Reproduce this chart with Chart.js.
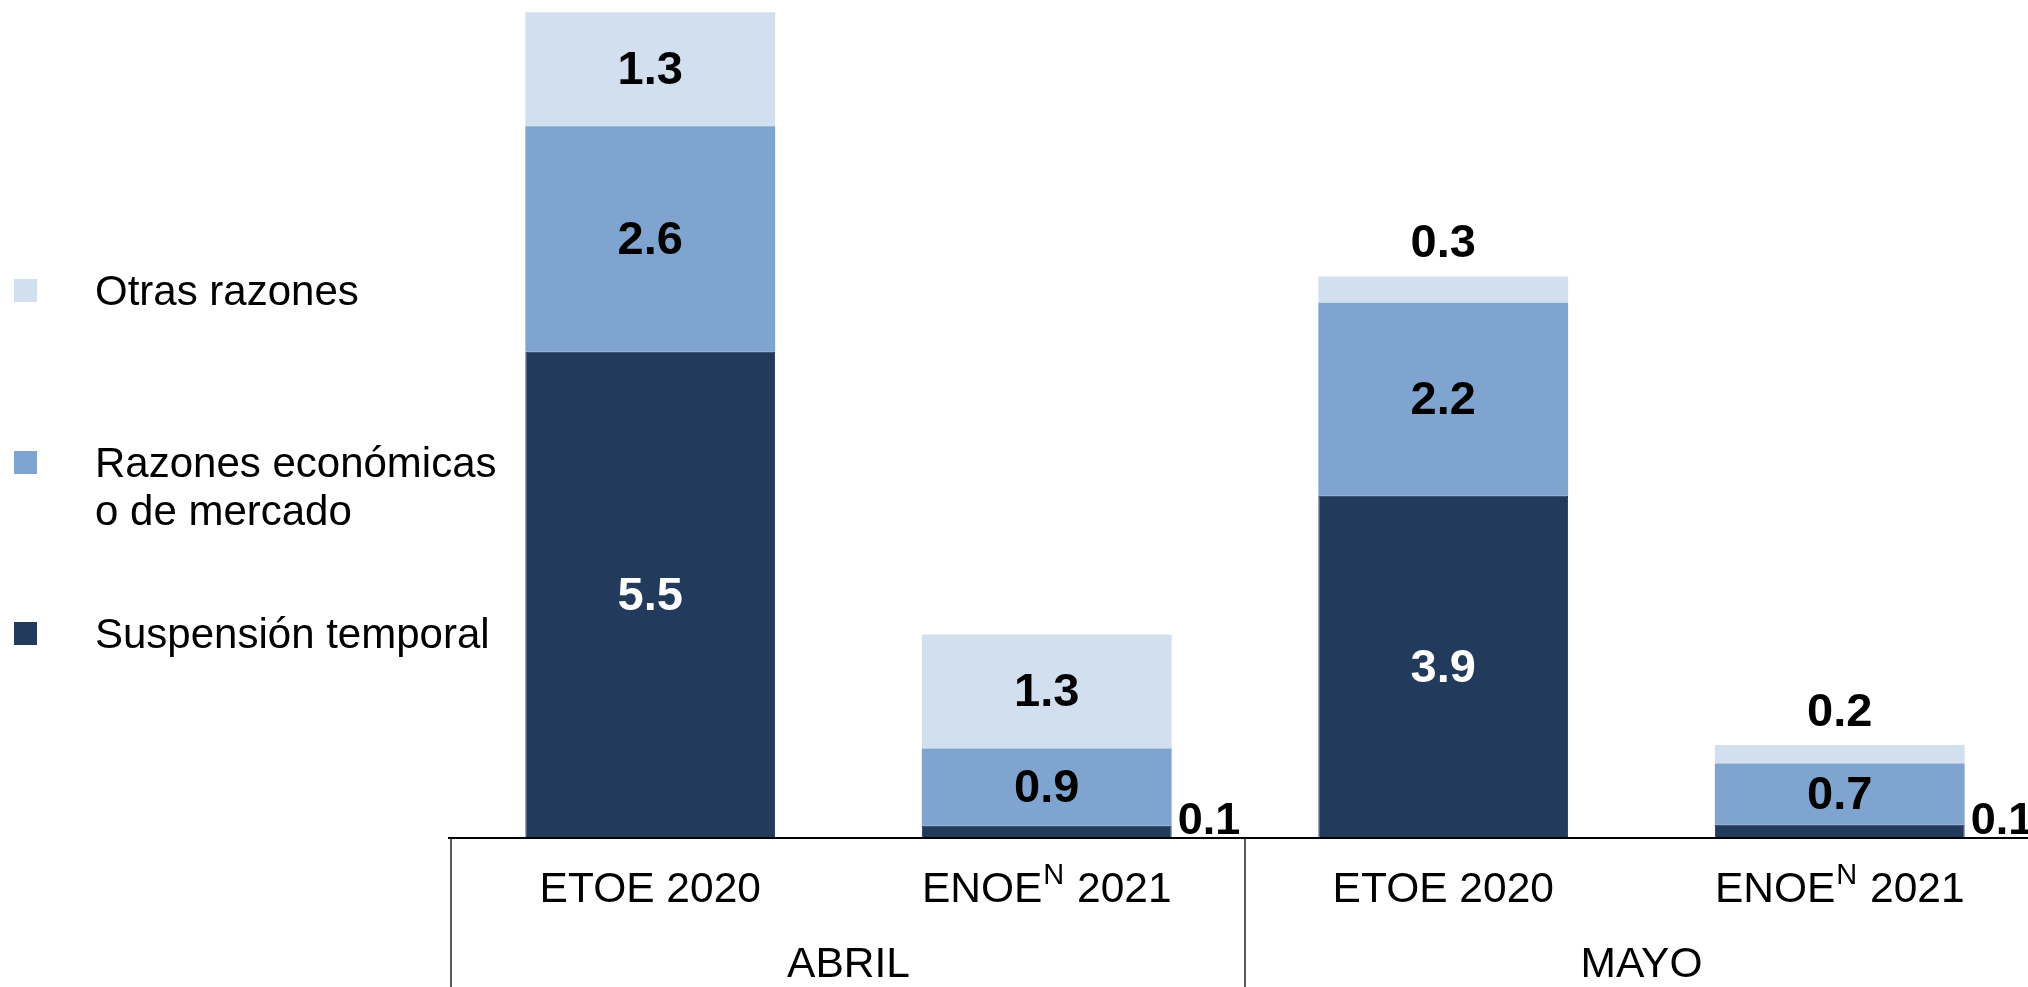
<!DOCTYPE html>
<html>
<head>
<meta charset="utf-8">
<script src="https://cdn.jsdelivr.net/npm/chart.js@4/dist/chart.umd.min.js"></script>
<style>
  html, body { margin: 0; padding: 0; background: #fff; overflow: hidden; }
  #wrap { width: 2038px; height: 987px; position: relative; }
</style>
</head>
<body>
<div id="wrap"><canvas id="chart"></canvas></div>
<script>
// categories and groups
var categories = ['ETOE 2020', 'ENOE 2021', 'ETOE 2020', 'ENOE 2021'];
var superscripts = ['', 'N', '', 'N'];
var groups = ['ABRIL', 'MAYO'];

// series (millions), bottom to top
var seriesNames = ['Suspensión temporal', 'Razones económicas\no de mercado', 'Otras razones'];
var suspension = [5.54, 0.14, 3.9, 0.15];
var economicas = [2.57, 0.88, 2.2, 0.7];
var otras = [1.3, 1.3, 0.3, 0.21];

var colors = ['#223A5C', '#7EA4CF', '#D2DFEE'];

var FONT = '"Liberation Sans", Arial, sans-serif';

var labelsPlugin = {
  id: 'labelsPlugin',
  afterDatasetsDraw: function(chart) {
    var ctx = chart.ctx;
    ctx.save();
    ctx.font = 'bold 47px ' + FONT;
    var n = chart.data.datasets.length;
    chart.data.datasets.forEach(function(ds, i) {
      var meta = chart.getDatasetMeta(i);
      meta.data.forEach(function(bar, j) {
        var txt = ds.data[j].toFixed(1);
        var h = bar.base - bar.y;
        if (h > 45) {
          ctx.fillStyle = i === 0 ? '#ffffff' : '#000000';
          ctx.textAlign = 'center';
          ctx.textBaseline = 'middle';
          ctx.fillText(txt, bar.x, (bar.y + bar.base) / 2 + 2);
        } else if (i === n - 1) {
          ctx.fillStyle = '#000';
          ctx.textAlign = 'center';
          ctx.textBaseline = 'alphabetic';
          ctx.fillText(txt, bar.x, bar.y - 19);
        } else {
          ctx.font = 'bold 45px ' + FONT;
          ctx.fillStyle = '#000';
          ctx.textAlign = 'left';
          ctx.textBaseline = 'alphabetic';
          ctx.fillText(txt, bar.x + bar.width / 2 + 6, bar.base - 4);
          ctx.font = 'bold 47px ' + FONT;
        }
      });
    });
    ctx.restore();
  },
  afterDraw: function(chart) {
    var ctx = chart.ctx;
    var area = chart.chartArea;
    var xs = chart.scales.x;
    ctx.save();

    // axis line
    ctx.strokeStyle = '#000';
    ctx.lineWidth = 2;
    ctx.beginPath();
    ctx.moveTo(448, area.bottom);
    ctx.lineTo(chart.width, area.bottom);
    ctx.stroke();

    // group box lines
    ctx.lineWidth = 1.5;
    ctx.strokeStyle = '#222';
    var per = categories.length / groups.length;
    for (var g = 0; g <= groups.length; g++) {
      var idx = g * per;
      var xp;
      if (idx === 0) xp = area.left - 1;
      else if (idx >= categories.length) continue;
      else xp = (xs.getPixelForValue(idx - 1) + xs.getPixelForValue(idx)) / 2;
      ctx.beginPath();
      ctx.moveTo(xp, area.bottom);
      ctx.lineTo(xp, chart.height);
      ctx.stroke();
    }

    // category labels
    ctx.fillStyle = '#000';
    ctx.textBaseline = 'alphabetic';
    ctx.textAlign = 'left';
    categories.forEach(function(c, j) {
      var cx = xs.getPixelForValue(j);
      var parts = c.split(' ');
      var first = parts[0];
      var rest = ' ' + parts.slice(1).join(' ');
      ctx.font = '42.5px ' + FONT;
      var w1 = ctx.measureText(first).width;
      var w3 = ctx.measureText(rest).width;
      ctx.font = '29px ' + FONT;
      var w2 = superscripts[j] ? ctx.measureText(superscripts[j]).width + 2 : 0;
      var x0 = cx - (w1 + w2 + w3) / 2;
      ctx.font = '42.5px ' + FONT;
      ctx.fillText(first, x0, 902);
      if (superscripts[j]) {
        ctx.font = '29px ' + FONT;
        ctx.fillText(superscripts[j], x0 + w1 + 1, 884);
      }
      ctx.font = '42.5px ' + FONT;
      ctx.fillText(rest, x0 + w1 + w2, 902);
    });

    // group labels
    ctx.textAlign = 'center';
    groups.forEach(function(gname, g) {
      var a = xs.getPixelForValue(g * per);
      var b = xs.getPixelForValue(g * per + per - 1);
      ctx.fillText(gname, (a + b) / 2, 977);
    });

    // legend (top series first)
    var legendY = [305, 477, 648];
    ctx.textAlign = 'left';
    ctx.font = '42px ' + FONT;
    for (var k = 0; k < seriesNames.length; k++) {
      var si = seriesNames.length - 1 - k;
      var y = legendY[k];
      ctx.fillStyle = colors[si];
      ctx.fillRect(14, y - 26, 23, 23);
      ctx.fillStyle = '#000';
      seriesNames[si].split('\n').forEach(function(line, li) {
        ctx.fillText(line, 95, y + li * 48);
      });
    }
    ctx.restore();
  }
};

var datasets = [suspension, economicas, otras].map(function(vals, i) {
  return {
    label: seriesNames[i],
    data: vals,
    backgroundColor: colors[i],
    borderColor: i === 0 ? '#142C55' : colors[i],
    borderWidth: i === 0 ? 1 : 0,
    barPercentage: 0.63,
    categoryPercentage: 1.0
  };
});

var ctx = document.getElementById('chart').getContext('2d');
var chart = new Chart(ctx, {
  type: 'bar',
  data: {
    labels: categories,
    datasets: datasets
  },
  options: {
    responsive: true,
    maintainAspectRatio: false,
    animation: false,
    layout: {
      padding: { left: 452, right: 0, top: 0, bottom: 149 }
    },
    plugins: {
      legend: { display: false },
      tooltip: { enabled: false }
    },
    scales: {
      x: { stacked: true, display: false, offset: true },
      y: { stacked: true, display: false, min: 0, max: 9.55 }
    }
  },
  plugins: [labelsPlugin]
});
</script>
</body>
</html>
